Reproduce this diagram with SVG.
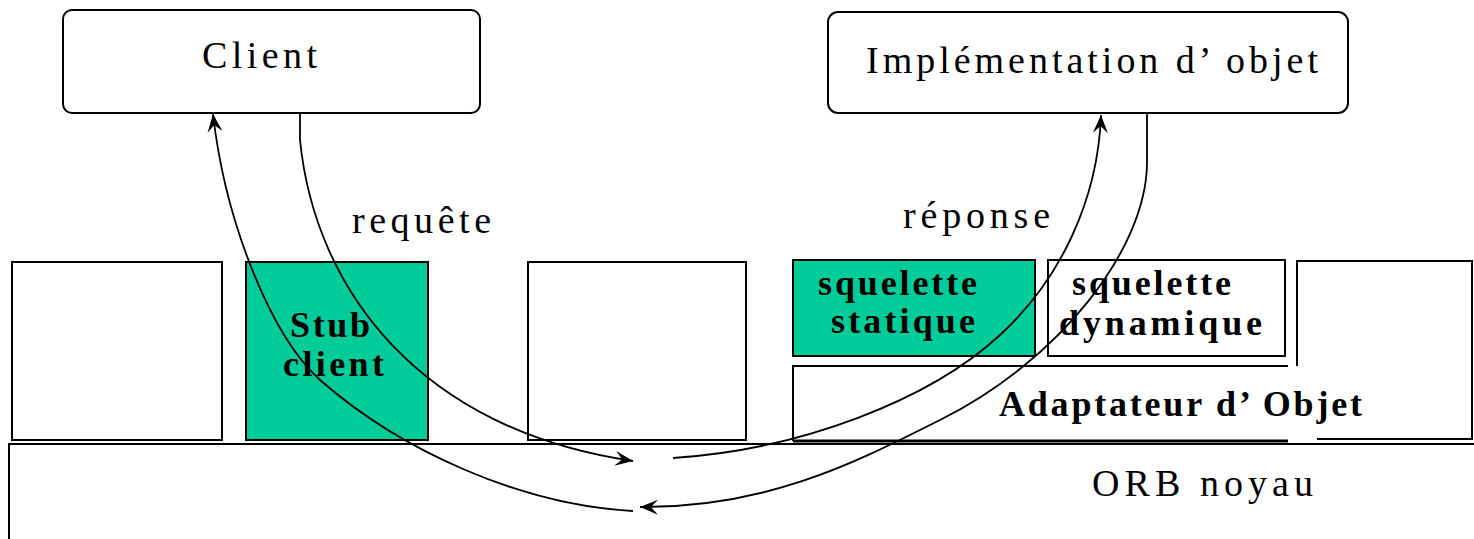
<svg xmlns="http://www.w3.org/2000/svg" width="1474" height="539" viewBox="0 0 1474 539">
  <style>
    .box { fill: #ffffff; stroke: #000000; stroke-width: 2; }
    .green { fill: #00cc99; stroke: #000000; stroke-width: 2; }
    .edge { fill: none; stroke: #000000; stroke-width: 2; }
    .flow { fill: none; stroke: #000000; stroke-width: 1.8; marker-end: url(#barb); }
    .lbl { font-family: "Liberation Serif", "Times New Roman", serif; font-size: 38px; fill: #000000; }
    .bold { font-family: "Liberation Serif", "Times New Roman", serif; font-size: 36px; font-weight: bold; fill: #000000; }
  </style>
  <defs>
    <marker id="barb" markerUnits="userSpaceOnUse" markerWidth="22" markerHeight="18" viewBox="-19 -9 20 18" refX="0" refY="0" orient="auto">
      <path d="M0,0 L-18,-7.5 L-11,0 L-18,7.5 Z" fill="#000000"/>
    </marker>
  </defs>

  <rect width="1474" height="539" fill="#ffffff"/>

  <!-- ORB core band along the bottom -->
  <g id="orb">
    <path class="edge" d="M9,539 L9,444 L1474,444"/>
    <text class="lbl" x="1092" y="496" textLength="221">ORB noyau</text>
  </g>

  <!-- top-level actors -->
  <g id="client">
    <rect class="box" x="63" y="10" width="417" height="103" rx="9"/>
    <text class="lbl" x="202" y="68" textLength="115">Client</text>
  </g>
  <g id="implementation">
    <rect class="box" x="828" y="12" width="520" height="101" rx="10"/>
    <text class="lbl" x="866" y="73" textLength="452">Implémentation d’ objet</text>
  </g>

  <!-- client side blocks -->
  <g id="block-left">
    <rect class="box" x="12" y="262" width="210" height="178"/>
  </g>
  <g id="stub-client">
    <rect class="green" x="246" y="262" width="182" height="178"/>
    <text class="bold" x="290" y="337" textLength="80">Stub</text>
    <text class="bold" x="283" y="376" textLength="101">client</text>
  </g>
  <g id="block-middle">
    <rect class="box" x="528" y="262" width="218" height="178"/>
  </g>

  <!-- server side blocks -->
  <g id="squelette-statique">
    <rect class="green" x="793" y="260" width="242" height="96"/>
    <text class="bold" x="818" y="295" textLength="159">squelette</text>
    <text class="bold" x="831" y="333" textLength="144">statique</text>
  </g>
  <g id="squelette-dynamique">
    <rect class="box" x="1048" y="260" width="237" height="96"/>
    <text class="bold" x="1072" y="295" textLength="159">squelette</text>
    <text class="bold" x="1059" y="335" textLength="203">dynamique</text>
  </g>
  <g id="adaptateur">
    <path class="edge" d="M793,441 L793,366 L1288,366"/>
    <path fill="none" stroke="#000000" stroke-width="3" d="M793,441 L1288,441"/>
    <text class="bold" x="999" y="416" textLength="363">Adaptateur d’ Objet</text>
  </g>
  <g id="block-right">
    <path class="edge" d="M1297,366 L1297,261 L1472,261 L1472,439 L1317,439"/>
  </g>

  <!-- request / reply flows -->
  <g id="connectors">
    <path id="flow-requete" class="flow" d="M300,113 L300,140 C315,290 420,430 633,461"/>
    <path id="flow-retour-client" class="flow" d="M633,511 C520,505 400,450 320,380 C270,335 225,220 213,114"/>
    <path id="flow-vers-objet" class="flow" d="M673,458 C800,450 930,400 1000,335 C1060,280 1098,200 1101,115"/>
    <path id="flow-reponse" class="flow" d="M1147,113 L1147,165 C1145,250 1060,360 940,420 C860,460 770,508 640,507"/>
    <text class="lbl" x="352" y="233" textLength="139">requête</text>
    <text class="lbl" x="903" y="228" textLength="147">réponse</text>
  </g>
</svg>
